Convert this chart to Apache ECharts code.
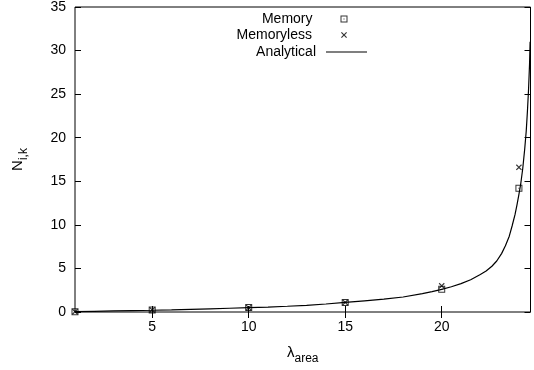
<!DOCTYPE html>
<html>
<head>
<meta charset="utf-8">
<script src="https://cdn.jsdelivr.net/npm/echarts@6/dist/echarts.min.js"></script>
<style>
  html, body { margin: 0; padding: 0; background: #fff; }
  #chart { width: 534px; height: 370px; }
</style>
</head>
<body>
<div id="chart"></div>
<script>
// Mean count N_{i,k} against arrival rate lambda_area
const lambdaPoints   = [1, 5, 10, 15, 20, 24];
const memoryValues   = [0.04, 0.22, 0.52, 1.1, 2.6, 14.2];
const memorylessVals = [0.04, 0.24, 0.5, 1.1, 3.0, 16.6];

// Analytical curve, sampled densely
const analyticX = [1, 2, 3, 4, 5, 6, 7, 8, 9, 10, 11, 12, 13, 14, 15, 16, 17, 18, 19, 19.5, 20, 20.5, 21, 21.5, 22, 22.3, 22.6, 22.85, 23.1, 23.3, 23.5, 23.65, 23.8, 23.9, 24, 24.1, 24.2, 24.3, 24.38, 24.44, 24.5, 24.55, 24.58];
const analyticY = [0.05, 0.08, 0.12, 0.16, 0.2, 0.25, 0.31, 0.37, 0.43, 0.5, 0.57, 0.66, 0.77, 0.92, 1.1, 1.28, 1.47, 1.72, 2.1, 2.33, 2.6, 2.9, 3.25, 3.7, 4.3, 4.7, 5.25, 5.85, 6.7, 7.6, 8.7, 9.9, 11.2, 12.3, 13.5, 14.8, 16.5, 18.7, 20.8, 23.0, 25.6, 28.4, 31.0];

const xTicks = [5, 10, 15, 20];
const yTicks = [0, 5, 10, 15, 20, 25, 30, 35];

const FONT = '"Liberation Sans", Arial, sans-serif';

// Symbols: open square with a centre dot, a small cross, and a plain line sample
const squareIcon = 'path://M0 0H7V7H0Z M1 1V6H6V1Z M3 3H4V4H3Z';
const crossIcon = 'path://M0 0.8L0.8 0L3 2.2L5.2 0L6 0.8L3.8 3L6 5.2L5.2 6L3 3.8L0.8 6L0 5.2L2.2 3Z';
const lineIcon = 'path://M0 0H41V1.2H0Z';

const zip = (xs, ys) => xs.map((x, i) => [x, ys[i]]);

const chart = echarts.init(document.getElementById('chart'), null, { renderer: 'canvas' });

function legendRow(name, icon, right, top, w, h, gap) {
  return {
    data: [{ name: name, icon: icon }],
    right: right,
    top: top,
    orient: 'vertical',
    align: 'right',
    padding: 0,
    itemWidth: w,
    itemHeight: h,
    selectedMode: false,
    textStyle: { fontFamily: FONT, fontSize: 14, color: '#000', padding: [0, gap, 0, 0] }
  };
}

const axisCommon = {
  type: 'value',
  min: 1,
  max: 24.6,
  axisLine: { show: false },
  splitLine: { show: false }
};

chart.setOption({
  animation: false,
  backgroundColor: '#fff',
  grid: {
    left: 70, right: 3.5, top: 6, bottom: 55,
    show: true, borderColor: '#000', borderWidth: 1, backgroundColor: 'transparent'
  },
  legend: [
    legendRow('Memory', squareIcon, 186.5, 12, 7, 7, 23),
    legendRow('Memoryless', crossIcon, 187, 28, 6, 6, 24),
    legendRow('Analytical', lineIcon, 167, 45, 41, 1.2, 5)
  ],
  xAxis: [
    Object.assign({}, axisCommon, {
      position: 'bottom',
      name: '{l|λ}{s|area}',
      nameLocation: 'middle',
      nameGap: 33,
      nameTextStyle: {
        rich: {
          l: { fontFamily: FONT, fontSize: 15, color: '#000', verticalAlign: 'top', lineHeight: 20 },
          s: { fontFamily: FONT, fontSize: 12, color: '#000', verticalAlign: 'bottom', lineHeight: 20, padding: [10, 0, 0, 0] }
        }
      },
      axisTick: { show: true, inside: true, length: 6, customValues: xTicks, lineStyle: { color: '#000' } },
      axisLabel: { show: true, customValues: xTicks, margin: 8, fontFamily: FONT, fontSize: 14, color: '#000' }
    }),
    Object.assign({}, axisCommon, {
      position: 'top',
      axisTick: { show: true, inside: true, length: 6, customValues: xTicks, lineStyle: { color: '#000' } },
      axisLabel: { show: false }
    })
  ],
  yAxis: [
    {
      type: 'value', min: 0, max: 35, interval: 5, position: 'left',
      axisLine: { show: false }, splitLine: { show: false },
      name: '{n|N}{s|i,k}',
      nameLocation: 'middle',
      nameRotate: 90,
      nameGap: 45,
      nameTextStyle: {
        rich: {
          n: { fontFamily: FONT, fontSize: 15, color: '#000', verticalAlign: 'top', lineHeight: 20 },
          s: { fontFamily: FONT, fontSize: 12, color: '#000', verticalAlign: 'bottom', lineHeight: 20, padding: [10, 0, 0, 0] }
        }
      },
      axisTick: { show: true, inside: true, length: 6, customValues: yTicks, lineStyle: { color: '#000' } },
      axisLabel: { show: true, customValues: yTicks, margin: 9, fontFamily: FONT, fontSize: 14, color: '#000' }
    },
    {
      type: 'value', min: 0, max: 35, interval: 5, position: 'right',
      axisLine: { show: false }, splitLine: { show: false },
      axisTick: { show: true, inside: true, length: 6, customValues: yTicks, lineStyle: { color: '#000' } },
      axisLabel: { show: false }
    }
  ],
  series: [
    {
      name: 'Analytical',
      type: 'line',
      data: zip(analyticX, analyticY),
      symbol: 'none',
      smooth: false,
      lineStyle: { color: '#000', width: 1.2 },
      itemStyle: { color: '#000' },
      z: 2
    },
    {
      name: 'Memory',
      type: 'scatter',
      data: zip(lambdaPoints, memoryValues),
      symbol: squareIcon,
      symbolSize: 7,
      itemStyle: { color: '#000' },
      z: 3
    },
    {
      name: 'Memoryless',
      type: 'scatter',
      data: zip(lambdaPoints, memorylessVals),
      symbol: crossIcon,
      symbolSize: 6,
      itemStyle: { color: '#000' },
      z: 3
    }
  ]
});
</script>
</body>
</html>
